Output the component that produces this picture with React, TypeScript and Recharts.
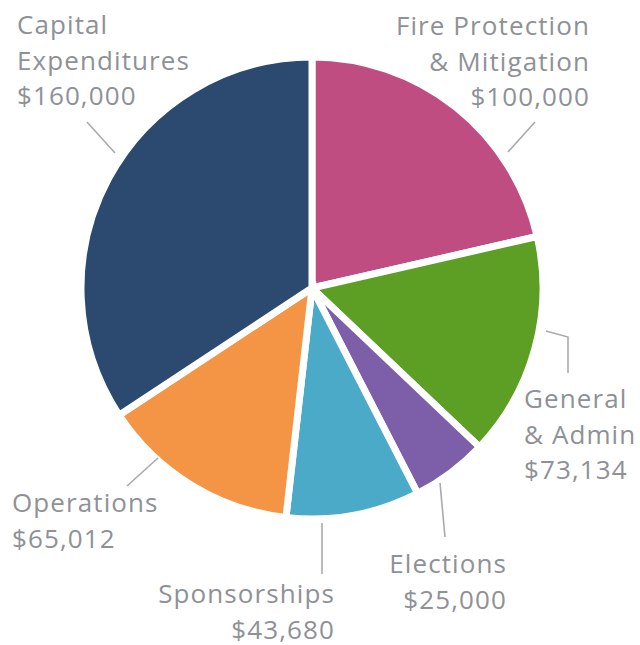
import React from "react";
import { PieChart, Pie, Cell } from "recharts";

const categories = [
  "Fire Protection & Mitigation",
  "General & Admin",
  "Elections",
  "Sponsorships",
  "Operations",
  "Capital Expenditures",
];
const values = [100000, 73134, 25000, 43680, 65012, 160000];
const labelLines = [
  ["Fire Protection", "& Mitigation"],
  ["General", "& Admin"],
  ["Elections"],
  ["Sponsorships"],
  ["Operations"],
  ["Capital", "Expenditures"],
];
const colors = ["#c04d82", "#5d9e24", "#7d5ea8", "#4baac8", "#f49545", "#2c4a70"];

// label layout relative to the pie centre
const labelLayout = [
  { x: 278, y: -253, anchor: "end", line: [[223, -166], [196, -136]] },
  { x: 212, y: 120, anchor: "start", line: [[234, 43], [256, 49], [256, 85]] },
  { x: 195, y: 285, anchor: "end", line: [[128, 195], [133, 249]] },
  { x: 23, y: 315, anchor: "end", line: [[10, 235], [10, 286]] },
  { x: -300, y: 224, anchor: "start", line: [[-154, 170], [-185, 198]] },
  { x: -295, y: -254, anchor: "start", line: [[-225, -166], [-197, -135]] },
];

const data = categories.map((c, i) => ({ name: c, value: values[i] }));
const fmt = (v: number) => "$" + v.toLocaleString("en-US");
const LINE_H = 35.5;

const renderLabel = (props: any) => {
  const { cx, cy, index, value } = props;
  const L = labelLayout[index];
  const lines = [...labelLines[index], fmt(value)];
  const pts = L.line.map((p) => `${cx + p[0]},${cy + p[1]}`).join(" ");
  return (
    <g key={"lbl" + index}>
      <polyline points={pts} fill="none" stroke="#a8aaad" strokeWidth={1.6} />
      <text
        x={cx + L.x}
        y={cy + L.y}
        textAnchor={L.anchor as any}
        fill="#8e9196"
        fontSize={26}
        letterSpacing={1.1}
        fontFamily="'Open Sans', 'Noto Sans', sans-serif"
      >
        {lines.map((t, k) => (
          <tspan key={k} x={cx + L.x} y={cy + L.y + k * LINE_H}>
            {t}
          </tspan>
        ))}
      </text>
    </g>
  );
};

export default function App() {
  return (
    <div style={{ position: "absolute", left: 0, top: 0, background: "#fff" }}>
      <PieChart width={640} height={645} margin={{ top: 0, right: 0, bottom: 0, left: 0 }}>
        <Pie
          data={data}
          dataKey="value"
          nameKey="name"
          cx={312}
          cy={288}
          outerRadius={231}
          startAngle={90}
          endAngle={-270}
          stroke="#ffffff"
          strokeWidth={7}
          label={renderLabel}
          labelLine={false}
          isAnimationActive={false}
        >
          {data.map((d, i) => (
            <Cell key={i} fill={colors[i]} />
          ))}
        </Pie>
      </PieChart>
    </div>
  );
}
